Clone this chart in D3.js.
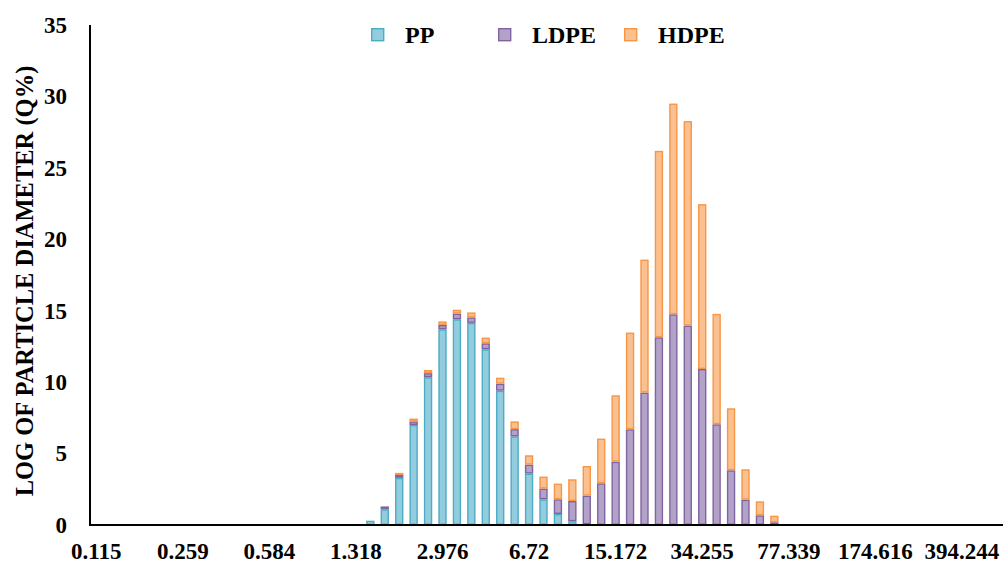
<!DOCTYPE html>
<html>
<head>
<meta charset="utf-8">
<script src="https://cdn.jsdelivr.net/npm/d3@7"></script>
<style>
  html, body { margin: 0; padding: 0; background: #fff; }
  svg { display: block; }
  text { font-family: "Liberation Serif", "Times New Roman", serif; font-weight: bold; fill: #000; }
</style>
</head>
<body>
<svg id="chart" width="1003" height="566"></svg>
<script>
// Particle diameter size classes (µm), log-spaced bins
const diameters = [
  "0.115","0.131","0.150","0.172","0.197","0.226",
  "0.259","0.297","0.340","0.389","0.446","0.511",
  "0.584","0.669","0.766","0.877","1.005","1.151",
  "1.318","1.510","1.729","1.980","2.268","2.598",
  "2.976","3.409","3.904","4.472","5.122","5.866",
  "6.72","7.697","8.816","10.097","11.565","13.246",
  "15.172","17.377","19.903","22.797","26.110","29.906",
  "34.255","39.234","44.937","51.470","58.951","67.520",
  "77.339","88.581","101.457","116.205","133.097","152.444",
  "174.616","199.998","229.070","262.368","300.504","344.185",
  "394.244","451.553","517.193"
];

// Labelled size classes on the x axis
const tickLabels = ["0.115","0.259","0.584","1.318","2.976","6.72","15.172","34.255","77.339","174.616","394.244"];

const yTicks = [0, 5, 10, 15, 20, 25, 30, 35];

// Volume fraction per size class (Q%)
const pp = [
  0,0,0,0,0,0, 0,0,0,0,0,0, 0,0,0,0,0,0,
  0, 0.3, 1.1, 3.3, 7.0, 10.35,
  13.7, 14.4, 14.15, 12.3, 9.4, 6.2,
  3.6, 1.8, 0.77, 0.26, 0.05, 0,
  0,0,0,0,0,0, 0,0,0,0,0,0, 0,0,0,0,0,0, 0,0,0,0,0,0, 0,0,0
];
const ldpe = [
  0,0,0,0,0,0, 0,0,0,0,0,0, 0,0,0,0,0,0,
  0, 0, 0.2, 0.2, 0.25, 0.28,
  0.3, 0.4, 0.38, 0.42, 0.49, 0.51,
  0.63, 0.75, 1.03, 1.42, 2.0, 2.92,
  4.43, 6.7, 9.27, 13.14, 14.75, 13.96,
  10.92, 7.05, 3.83, 1.77, 0.68, 0.19,
  0,0,0,0,0,0, 0,0,0,0,0,0, 0,0,0
];
const hdpe = [
  0,0,0,0,0,0, 0,0,0,0,0,0, 0,0,0,0,0,0,
  0, 0, 0, 0.15, 0.2, 0.22,
  0.25, 0.27, 0.35, 0.4, 0.42, 0.54,
  0.65, 0.84, 1.1, 1.52, 2.08, 3.13,
  4.65, 6.77, 9.31, 13.05, 14.75, 14.31,
  11.54, 7.73, 4.34, 2.13, 0.98, 0.46,
  0,0,0,0,0,0, 0,0,0,0,0,0, 0,0,0
];

const seriesNames = ["PP", "LDPE", "HDPE"];
const strokeColors = ["#4BACC6", "#8064A2", "#F79646"];
const fillColors   = ["#93CDDD", "#B3A2C7", "#FAC090"];

const rows = diameters.map((d, i) => ({ d, PP: pp[i], LDPE: ldpe[i], HDPE: hdpe[i] }));
const stacked = d3.stack().keys(seriesNames)(rows);

const svg = d3.select("#chart");

const x = d3.scaleBand()
  .domain(diameters)
  .range([89, 998])
  .paddingInner(0.42)
  .paddingOuter(0.21);

const y = d3.scaleLinear().domain([0, 35]).range([525, 25]);

// Stacked bars
const sw = 1.4;
svg.append("g").selectAll("g")
  .data(stacked)
  .join("g")
    .attr("fill", (s, i) => fillColors[i])
    .attr("stroke", (s, i) => strokeColors[i])
    .attr("stroke-width", sw)
  .selectAll("rect")
  .data(s => s.filter(p => p[1] - p[0] > 0))
  .join("rect")
    .attr("x", p => x(p.data.d) + sw / 2)
    .attr("width", x.bandwidth() - sw)
    .attr("y", p => y(p[1]) + sw / 2)
    .attr("height", p => Math.max(0, y(p[0]) - y(p[1]) - sw));

// X axis: labels every sixth size class
const xAxis = d3.axisBottom(x)
  .tickValues(tickLabels)
  .tickSize(0)
  .tickPadding(18);
const gx = svg.append("g").attr("transform", "translate(0,525)").call(xAxis);
gx.select(".domain").remove();
gx.selectAll("text")
  .style("font-family", '"Liberation Serif", "Times New Roman", serif')
  .style("font-weight", "bold")
  .style("font-size", "23px")
  .attr("fill", "#000");

// Y axis
const yAxis = d3.axisLeft(y).tickValues(yTicks).tickSize(0).tickPadding(23);
const gy = svg.append("g").attr("transform", "translate(90,0)").call(yAxis);
gy.select(".domain").remove();
gy.selectAll("text")
  .style("font-family", '"Liberation Serif", "Times New Roman", serif')
  .style("font-weight", "bold")
  .style("font-size", "23px")
  .attr("fill", "#000");

// Axis lines
svg.append("line")
  .attr("x1", 90).attr("x2", 90)
  .attr("y1", y(35)).attr("y2", y(0) + 1)
  .attr("stroke", "#000").attr("stroke-width", 2);
svg.append("line")
  .attr("x1", 89).attr("x2", 1003)
  .attr("y1", y(0)).attr("y2", y(0))
  .attr("stroke", "#000").attr("stroke-width", 2);

// Y axis title
svg.append("text")
  .attr("transform", "translate(33,281) rotate(-90)")
  .attr("text-anchor", "middle")
  .style("font-size", "24.5px")
  .text("LOG OF PARTICLE DIAMETER (Q%)");

// Legend
const legendX = [371, 498, 624];
const legend = svg.append("g").selectAll("g")
  .data(seriesNames)
  .join("g")
    .attr("transform", (d, i) => `translate(${legendX[i]},28)`);
legend.append("rect")
  .attr("x", 0.7).attr("y", 0.7)
  .attr("width", 12).attr("height", 12)
  .attr("fill", (d, i) => fillColors[i])
  .attr("stroke", (d, i) => strokeColors[i])
  .attr("stroke-width", 1.4);
legend.append("text")
  .attr("x", 34).attr("y", 15)
  .style("font-size", "24px")
  .text(d => d);
</script>
</body>
</html>
